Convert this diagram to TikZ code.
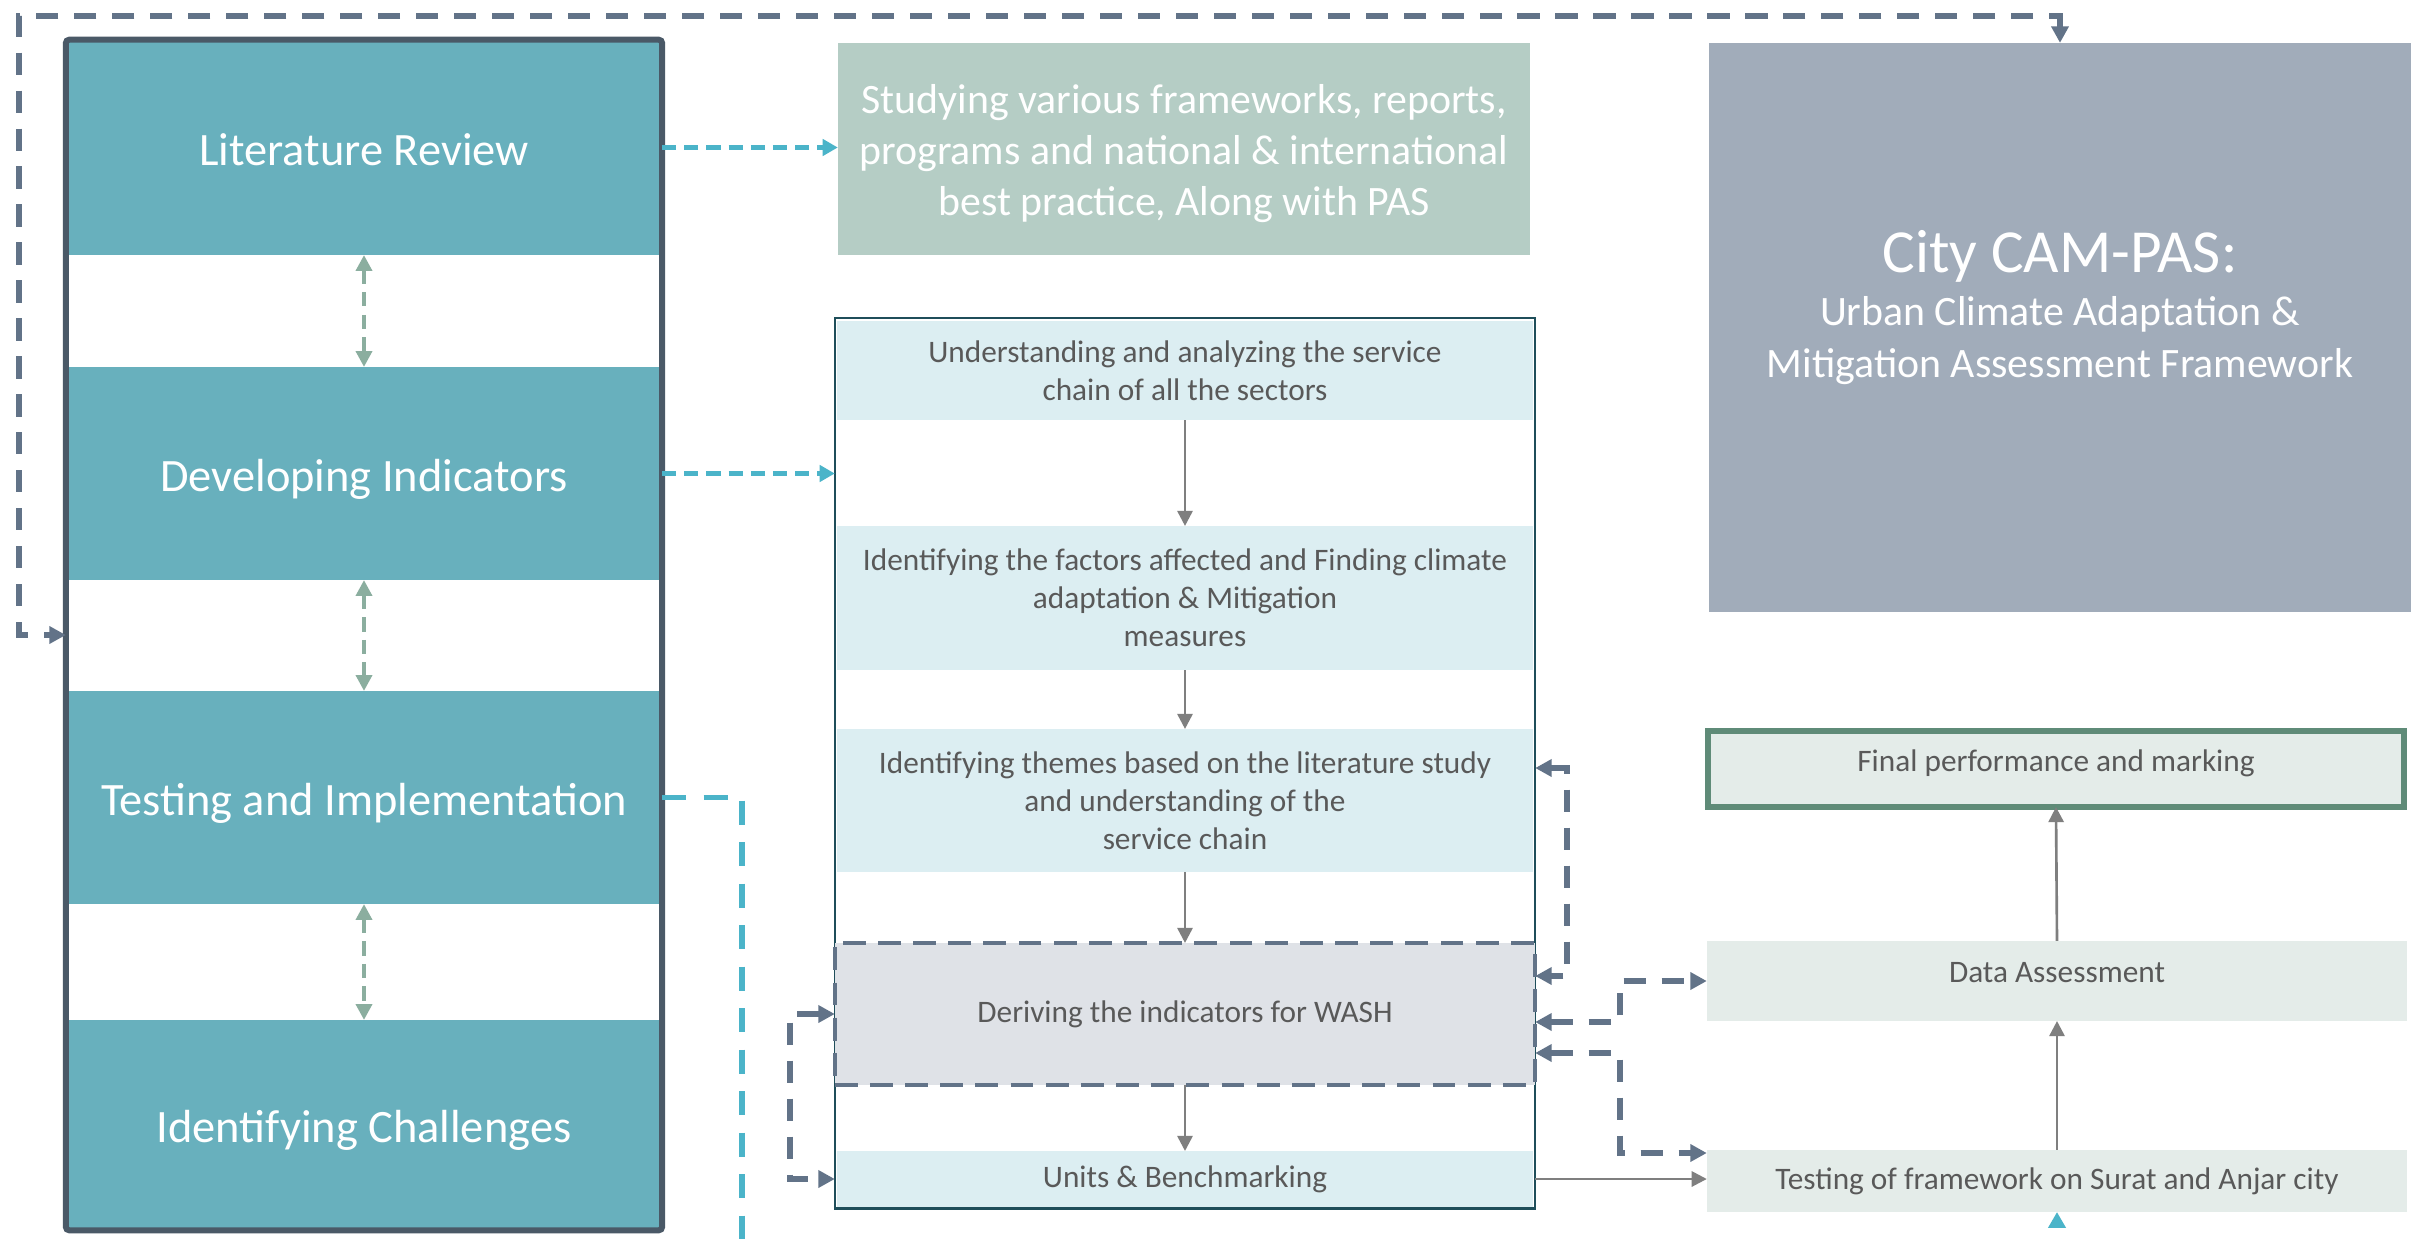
\documentclass[tikz,border=0pt]{standalone}
\usepackage{fontspec}
\setmainfont{Carlito}
\usetikzlibrary{arrows.meta}
\definecolor{tealband}{HTML}{68B0BD}
\definecolor{framec}{HTML}{4A5967}
\definecolor{studyc}{HTML}{B5CDC5}
\definecolor{cyanc}{HTML}{4BB4C9}
\definecolor{greenarr}{HTML}{8BAE9F}
\definecolor{slatec}{HTML}{627388}
\definecolor{innerc}{HTML}{1F4E5A}
\definecolor{lightband}{HTML}{DCEEF2}
\definecolor{washc}{HTML}{DFE2E7}
\definecolor{textgrey}{HTML}{595959}
\definecolor{arrgrey}{HTML}{7F7F7F}
\definecolor{camc}{HTML}{A1ACBA}
\definecolor{finalborder}{HTML}{5F8B78}
\definecolor{rightfill}{HTML}{E4ECE9}
\newcommand{\fsz}[2]{\fontsize{#1}{#2}\selectfont}
\begin{document}
\begin{tikzpicture}[x=0.01cm,y=-0.01cm,
  every node/.style={inner sep=0pt, outer sep=0pt},
  tealbox/.style={fill=tealband, minimum width=5.96cm, text=white, font=\fsz{13.2}{15.8}, text height=10.2pt, text depth=0pt},
  bandbox/.style={fill=lightband, minimum width=6.96cm, text=textgrey, align=center, font=\fsz{8.9}{10.8}},
  rightbox/.style={fill=rightfill, minimum width=7.0cm, text=textgrey, font=\fsz{8.9}{10.8}},
  slatearrow/.style={draw=slatec, line width=1.7pt, dash pattern=on 6.3pt off 4.5pt, >={Triangle[length=4.7pt,width=4.8pt]}},
  cyanarrow/.style={draw=cyanc, line width=1.4pt, dash pattern=on 4pt off 2.3pt, >={Triangle[length=4.3pt,width=4.6pt]}},
  cyanlong/.style={draw=cyanc, line width=1.7pt, dash pattern=on 6.8pt off 5pt, >={Triangle[length=4.5pt,width=4.8pt]}},
  greenarrow/.style={draw=greenarr, line width=1.1pt, dash pattern=on 4pt off 2.4pt, >={Triangle[length=4.5pt,width=4.5pt]}},
  greyarrow/.style={draw=arrgrey, line width=0.75pt, >={Triangle[length=4.3pt,width=4.3pt]}}
]
\clip (0,0) rectangle (2420,1239);
\fill[white] (0,0) rectangle (2420,1239);

% left column
\node[tealbox, minimum height=2.15cm] (lit) at (364,147.5) {Literature Review};
\node[tealbox, minimum height=2.13cm] (dev) at (364,473.5) {Developing Indicators};
\node[tealbox, minimum height=2.13cm] (test) at (364,797.5) {Testing and Implementation};
\node[tealbox, minimum height=2.10cm] (chal) at (364,1125) {Identifying Challenges};
\node[draw=framec, line width=1.7pt, rounded corners=1pt, minimum width=5.96cm, minimum height=11.9cm] (frame) at (364,635) {};

\draw[greenarrow,<->] (lit.south) -- (dev.north);
\draw[greenarrow,<->] (dev.south) -- (test.north);
\draw[greenarrow,<->] (test.south) -- (chal.north);

% studying box
\node[fill=studyc, minimum width=6.92cm, minimum height=2.12cm] (study) at (1184,149) {};
\node[text=white, align=center, font=\fsz{11.9}{14.5}] (studytext) at (1184,154)
  {Studying various frameworks, reports,\\programs and national \& international\\best practice, Along with PAS};

% inner process container
\node[draw=innerc, line width=0.7pt, minimum width=7cm, minimum height=8.9cm] (inner) at (1185,763) {};
\node[bandbox, minimum height=0.99cm] (b1) at (1185,370.5) {Understanding and analyzing the service\\chain of all the sectors};
\node[bandbox, minimum height=1.44cm] (b2) at (1185,598) {Identifying the factors affected and Finding climate\\adaptation \& Mitigation\\measures};
\node[bandbox, minimum height=1.43cm] (b3) at (1185,800.5) {Identifying themes based on the literature study\\and understanding of the\\service chain};
\node[bandbox, fill=washc, draw=slatec, line width=1.2pt, dash pattern=on 6.5pt off 3.5pt, minimum width=7cm, minimum height=1.42cm] (wash) at (1185,1014) {Deriving the indicators for WASH};
\node[bandbox, minimum height=0.56cm] (units) at (1185,1179) {Units \& Benchmarking};

\draw[greyarrow,->] (b1.south) -- (b2.north);
\draw[greyarrow,->] (b2.south) -- (b3.north);
\draw[greyarrow,->] (b3.south) -- (wash.north);
\draw[greyarrow,->] (wash.south) -- (units.north);

% CAM-PAS box
\node[fill=camc, minimum width=7.02cm, minimum height=5.69cm] (cam) at (2060,327.5) {};
\node[anchor=base, text=white, font=\fsz{17.4}{20}] (camtitle) at (2060,272) {City CAM-PAS:};
\node[anchor=base, text=white, font=\fsz{11.9}{14.5}] (camsubA) at (2060,325.5) {Urban Climate Adaptation \&};
\node[anchor=base, text=white, font=\fsz{11.9}{14.5}] (camsubB) at (2060,377) {Mitigation Assessment Framework};

% right column
\node[rightbox, draw=finalborder, line width=1.7pt, minimum width=6.96cm, minimum height=0.76cm, text height=1.2pt, text depth=0pt] (final) at (2056,769) {Final performance and marking};
\node[rightbox, minimum height=0.8cm, text height=0.6pt, text depth=0pt] (data) at (2057,981) {Data Assessment};
\node[rightbox, minimum height=0.62cm] (tfw) at (2057,1181) {Testing of framework on Surat and Anjar city};

\draw[greyarrow,->] (tfw.north) -- (data.south);
\draw[greyarrow,->] (data.north) -- (final.south);
\draw[greyarrow,->] (inner.east |- units.east) -- (tfw.west |- units.east);

% cyan dashed connectors
\draw[cyanarrow,->] (lit.east) -- (lit.east -| study.west);
\draw[cyanarrow,->] (dev.east) -- (dev.east -| inner.west);
\draw[cyanlong,->] (test.east) -| (742,1290) -| (tfw.south);

% slate dashed connectors
\draw[slatearrow,<->] (cam.north) -- (cam.north |- 0,16) -- (19,16) -- (19,635) -- (frame.west);
\draw[slatearrow,<->] (inner.east |- 0,768) -- (1567,768) -- (1567,976) -- (inner.east |- 0,976);
\draw[slatearrow,<->] (inner.east |- 0,1022) -- (1620,1022) -- (1620,981) -- (data.west);
\draw[slatearrow,<->] (inner.east |- 0,1053) -- (1620,1053) -- (1620,1153) -- (tfw.west |- 0,1153);
\draw[slatearrow,<->] (inner.west |- 0,1014) -- (790,1014) -- (790,1179) -- (inner.west |- 0,1179);
\end{tikzpicture}
\end{document}
